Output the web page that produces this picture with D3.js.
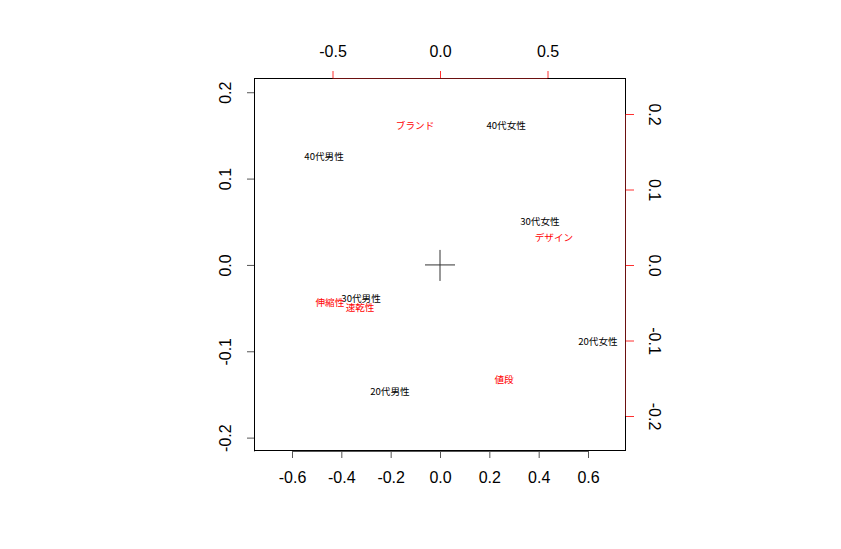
<!DOCTYPE html>
<html><head><meta charset="utf-8">
<script src="https://cdn.jsdelivr.net/npm/d3@7"></script>
<style>body{margin:0;background:#fff}</style>
</head><body>
<script>
// Row scores (black, bottom/left axes)
const rowNames = ["20代男性","20代女性","30代男性","30代女性","40代男性","40代女性"];
const rowX = [-0.203, 0.640, -0.320, 0.405, -0.470, 0.268];
const rowY = [-0.147, -0.089, -0.039, 0.050, 0.126, 0.161];
// Column scores (red, top/right axes)
const colNames = ["値段","デザイン","ブランド","伸縮性","速乾性"];
const colX = [0.298, 0.530, -0.116, -0.512, -0.372];
const colY = [-0.152, 0.036, 0.185, -0.050, -0.056];
// Tick labels
const bottomTicks = [-0.6,-0.4,-0.2,0.0,0.2,0.4,0.6];
const leftTicks = [-0.2,-0.1,0.0,0.1,0.2];
const topTicks = [-0.5,0.0,0.5];
const rightTicks = [-0.2,-0.1,0.0,0.1,0.2];

const W=841,H=549;
const L=254,R=626,T=78,B=451;
const svg=d3.select("body").append("svg").attr("width",W).attr("height",H);

const x=d3.scaleLinear().domain([-0.754,0.754]).range([L,R]);
const y=d3.scaleLinear().domain([-0.2155,0.2165]).range([B,T]);
const x2=d3.scaleLinear().domain([0,0.5]).range([440,547.5]);
const y2=d3.scaleLinear().domain([0,0.2]).range([265,114]);
x2.domain([x2.invert(L),x2.invert(R)]).range([L,R]);
y2.domain([y2.invert(B),y2.invert(T)]).range([B,T]);

const axisFont="Liberation Sans, Arial, sans-serif";
const fmt=v=>v.toFixed(1).replace("−","-");

function styleAxis(g,lineCol,tickCol){
  g.selectAll(".domain").attr("stroke",lineCol).attr("stroke-width",1);
  g.selectAll(".tick line").attr("stroke",tickCol).attr("stroke-width",1);
  g.selectAll(".tick text").attr("fill","#000").style("font-family",axisFont).style("font-size","16px");
}

// bottom
const gb=svg.append("g").attr("transform",`translate(0,${B})`)
  .call(d3.axisBottom(x).tickValues(bottomTicks).tickFormat(fmt).tickSize(7).tickPadding(14).tickSizeOuter(0));
gb.select(".domain").attr("d",`M${x(-0.6)},0.5H${x(0.6)}`);
styleAxis(gb,"#555","#555");
// left
const gl=svg.append("g").attr("transform",`translate(${L},0)`)
  .call(d3.axisLeft(y).tickValues(leftTicks).tickFormat(fmt).tickSize(7).tickSizeOuter(0));
styleAxis(gl,"#555","#555");
gl.selectAll(".tick text").attr("transform","rotate(-90)").attr("x",0).attr("y",-29).attr("dy","0.35em").attr("text-anchor","middle");
// top
const gt=svg.append("g").attr("transform",`translate(0,${T})`)
  .call(d3.axisTop(x2).tickValues(topTicks).tickFormat(fmt).tickSize(7).tickPadding(14).tickSizeOuter(0));
gt.select(".domain").attr("d",`M${x2(-0.5)},0.5H${x2(0.5)}`);
styleAxis(gt,"#8b1a1a","#ff3030");
// right
const gr=svg.append("g").attr("transform",`translate(${R},0)`)
  .call(d3.axisRight(y2).tickValues(rightTicks).tickFormat(fmt).tickSize(8).tickSizeOuter(0));
gr.select(".domain").attr("d",`M-0.5,${y2(0.2)}V${y2(-0.2)}`);
styleAxis(gr,"#8b1a1a","#ff3030");
gr.selectAll(".tick text").attr("transform","rotate(90)").attr("x",0).attr("y",-29).attr("dy","0.35em").attr("text-anchor","middle");

// box
svg.append("rect").attr("x",L+0.5).attr("y",T+0.5).attr("width",R-L-1).attr("height",B-T-1)
  .attr("fill","none").attr("stroke","#000").attr("stroke-width",1);
// red axis lines over box edges
svg.append("line").attr("x1",x2(-0.5)).attr("x2",x2(0.5)).attr("y1",T+0.5).attr("y2",T+0.5).attr("stroke","#6b1010");
svg.append("line").attr("x1",R-0.5).attr("x2",R-0.5).attr("y1",y2(0.2)).attr("y2",y2(-0.2)).attr("stroke","#6b1010");

// origin cross
svg.append("line").attr("x1",x(0)-15).attr("x2",x(0)+15).attr("y1",y(0)).attr("y2",y(0)).attr("stroke","#333");
svg.append("line").attr("x1",x(0)).attr("x2",x(0)).attr("y1",y(0)-15).attr("y2",y(0)+16).attr("stroke","#333");

const labFont="'Noto Sans CJK JP', sans-serif";
svg.append("g").selectAll("text").data(rowNames).join("text")
  .attr("x",(d,i)=>x(rowX[i])).attr("y",(d,i)=>y(rowY[i])).attr("dy","0.35em")
  .attr("text-anchor","middle").style("font-family",labFont).style("font-size","9.6px").attr("fill","#000").text(d=>d);
svg.append("g").selectAll("text").data(colNames).join("text")
  .attr("x",(d,i)=>x2(colX[i])).attr("y",(d,i)=>y2(colY[i])).attr("dy","0.35em")
  .attr("text-anchor","middle").style("font-family",labFont).style("font-size","9.6px").attr("fill","#ff0000").text(d=>d);
</script>
</body></html>
